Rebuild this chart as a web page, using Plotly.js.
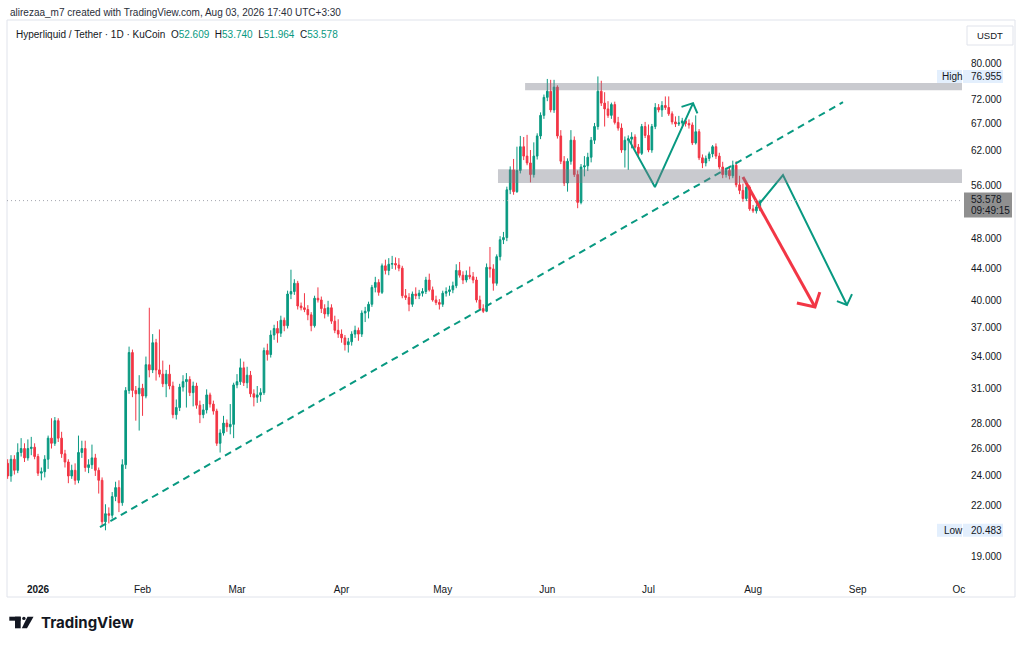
<!DOCTYPE html>
<html>
<head>
<meta charset="utf-8">
<script src="https://cdn.plot.ly/plotly-3.0.1.min.js"></script>
<style>
  html, body { margin: 0; padding: 0; background: #ffffff; }
  #chart { width: 1024px; height: 646px; }
</style>
</head>
<body>
<div id="chart"></div>
<script>
// daily candles, [open, high, low, close]
var dec2025 = [
  [24.9,25.2,23.8,24.0],[24.0,25.5,23.6,25.2],[25.2,25.5,24.1,24.4],[24.4,26.4,24.2,25.7],
  [25.7,26.8,25.4,26.0],[26.0,26.4,25.0,25.3],[25.3,26.7,25.1,26.0],[26.0,26.9,25.5,26.1],
  [26.1,26.4,25.2,25.4]
];
var jan2026 = [
  [25.4,25.6,24.0,24.2],[24.2,24.6,23.7,24.3],[24.3,25.5,23.9,25.2],[25.2,27.0,24.5,26.8],
  [26.8,28.4,26.0,26.4],[26.4,28.5,26.2,28.2],[28.2,28.4,26.5,26.8],[26.8,27.3,25.3,25.6],
  [25.6,25.9,24.6,25.0],[25.0,25.2,23.5,24.0],[24.0,24.8,23.8,24.4],[24.4,24.9,23.4,23.7],
  [23.7,27.0,23.5,25.7],[25.7,26.6,25.3,26.0],[26.0,26.6,24.3,24.6],[24.6,25.2,24.2,24.8],
  [24.8,26.3,24.5,25.3],[25.3,25.6,24.0,24.4],[24.4,24.6,22.8,23.7],[23.7,23.9,20.8,21.0],
  [21.0,22.1,20.483,21.5],[21.5,21.9,20.9,21.4],[21.4,22.9,21.2,22.6],[22.6,23.6,22.3,23.2],
  [23.2,23.7,21.6,22.2],[22.2,25.2,22.0,24.8],[24.8,31.1,24.5,30.8],[30.8,35.0,30.5,34.4],
  [34.4,34.7,30.2,30.8],[30.8,31.2,28.2,30.5],[30.5,32.2,27.4,31.0]
];
var feb2026 = [
  [31.0,31.4,28.6,30.3],[30.3,34.0,30.1,33.2],[33.2,39.2,32.0,32.7],[32.7,36.3,32.4,35.4],
  [35.4,35.8,31.7,32.7],[32.7,36.8,32.0,32.3],[32.3,33.6,31.1,31.4],[31.4,32.7,30.2,32.3],
  [32.3,33.2,30.9,31.2],[31.2,31.6,28.4,28.7],[28.7,30.0,28.3,29.3],[29.3,31.4,29.0,31.1],
  [31.1,32.2,30.7,31.6],[31.6,32.4,29.3,31.8],[31.8,32.1,30.3,30.6],[30.6,31.6,29.4,31.2],
  [31.2,31.5,29.2,29.5],[29.5,29.9,28.0,28.7],[28.7,29.6,28.4,29.1],[29.1,30.9,28.8,30.4],
  [30.4,30.6,29.3,29.6],[29.6,29.9,28.7,29.0],[29.0,29.2,26.2,26.4],[26.4,27.5,25.7,27.2],
  [27.2,28.6,27.0,28.0],[28.0,28.3,27.3,27.7],[27.7,29.6,27.1,27.9],[27.9,31.5,26.8,31.3]
];
var mar2026 = [
  [31.3,32.3,31.0,31.6],[31.6,33.8,31.3,32.9],[32.9,33.5,31.2,31.5],[31.5,33.0,31.0,32.2],
  [32.2,32.6,30.2,30.5],[30.5,30.9,29.4,30.2],[30.2,31.2,29.7,30.4],[30.4,31.0,29.8,30.6],
  [30.6,34.9,30.4,34.6],[34.6,35.3,33.6,34.2],[34.2,36.7,33.9,36.2],[36.2,37.3,35.7,36.9],
  [36.9,37.7,35.4,36.4],[36.4,38.3,36.0,37.8],[37.8,38.1,36.6,37.2],[37.2,41.2,36.9,40.8],
  [40.8,43.8,40.2,41.1],[41.1,42.6,40.7,42.1],[42.1,42.4,39.0,39.4],[39.4,39.8,38.9,39.2],
  [39.2,40.9,38.7,39.0],[39.0,39.5,37.8,38.4],[38.4,38.7,36.6,37.2],[37.2,40.6,37.0,40.3],
  [40.3,41.6,39.8,40.1],[40.1,40.5,38.6,39.1],[39.1,39.6,38.0,38.5],[38.5,40.0,38.2,39.2],
  [39.2,39.6,37.4,37.7],[37.7,38.3,36.4,36.7],[36.7,37.9,35.9,36.3]
];
var apr2026 = [
  [36.3,36.8,35.4,35.9],[35.9,36.2,34.6,35.2],[35.2,35.9,34.4,35.5],[35.5,36.6,35.1,36.3],
  [36.3,37.2,35.9,36.7],[36.7,37.0,35.6,36.3],[36.3,38.9,36.0,38.6],[38.6,39.3,37.6,38.8],
  [38.8,39.9,38.0,39.6],[39.6,41.9,39.3,41.6],[41.6,42.9,41.0,42.2],[42.2,42.6,40.6,41.0],
  [41.0,44.6,40.8,44.3],[44.3,45.1,43.2,43.7],[43.7,45.3,43.1,44.5],[44.5,45.6,43.9,44.6],
  [44.6,45.4,43.8,44.4],[44.4,45.3,43.6,44.0],[44.0,44.3,40.3,40.6],[40.6,41.4,40.1,40.4],
  [40.4,40.9,38.8,39.6],[39.6,41.1,39.3,40.8],[40.8,41.6,40.2,40.6],[40.6,41.3,40.2,40.9],
  [40.9,41.5,40.5,41.1],[41.1,42.9,40.8,42.5],[42.5,43.3,41.1,41.3],[41.3,41.7,39.9,40.1],
  [40.1,40.6,39.5,39.8],[39.8,40.2,39.0,39.6]
];
var may2026 = [
  [39.6,41.2,39.3,40.9],[40.9,41.6,40.5,41.1],[41.1,41.8,40.6,41.3],[41.3,42.3,40.9,41.8],
  [41.8,44.5,41.5,43.7],[43.7,44.8,42.8,43.1],[43.1,43.6,42.0,42.5],[42.5,43.7,42.2,43.1],
  [43.1,44.2,42.6,42.9],[42.9,43.5,42.1,42.5],[42.5,42.9,39.8,40.1],[40.1,40.6,38.9,39.1],
  [39.1,39.6,38.6,38.8],[38.8,44.6,38.7,44.1],[44.1,46.8,42.8,43.9],[43.9,44.5,41.2,42.1],
  [42.1,45.8,41.8,45.5],[45.5,48.3,45.0,47.8],[47.8,48.9,47.2,48.1],[48.1,55.8,47.6,55.3],
  [55.3,59.2,54.6,58.6],[58.6,60.5,54.5,55.0],[55.0,62.7,54.8,58.5],[58.5,64.7,58.0,62.7],
  [62.7,64.5,60.3,61.0],[61.0,64.9,59.4,59.8],[59.8,62.1,56.5,57.8],[57.8,63.5,57.3,61.0],
  [61.0,65.2,60.4,64.7],[64.7,69.3,64.1,68.7],[68.7,73.0,68.0,72.4]
];
var jun2026 = [
  [72.4,76.4,71.6,73.7],[73.7,76.2,69.3,69.8],[69.8,76.2,69.2,74.6],[74.6,75.0,64.2,64.7],
  [64.7,65.8,59.6,60.1],[60.1,61.0,55.9,56.4],[56.4,60.6,55.0,60.1],[60.1,65.8,59.5,63.9],
  [63.9,64.6,57.4,57.8],[57.8,58.5,52.4,53.3],[53.3,59.6,53.0,59.1],[59.1,61.0,57.5,59.3],
  [59.3,61.6,58.4,60.8],[60.8,64.5,59.9,63.9],[63.9,67.2,63.2,66.5],[66.5,76.955,65.9,73.7],
  [73.7,76.0,70.6,71.2],[71.2,73.5,66.5,70.0],[70.0,71.6,68.2,68.7],[68.7,71.3,68.0,70.9],
  [70.9,71.5,66.9,67.3],[67.3,68.4,65.7,66.2],[66.2,67.1,61.6,62.1],[62.1,64.6,59.0,63.9],
  [63.9,64.8,58.6,64.1],[64.1,65.4,62.4,64.5],[64.5,65.0,62.2,62.6],[62.6,63.2,61.0,61.5],
  [61.5,67.0,61.2,66.5],[66.5,67.4,64.3,64.8]
];
var jul2026 = [
  [64.8,66.9,61.7,62.1],[62.1,67.0,61.6,66.5],[66.5,71.2,66.0,70.3],[70.3,71.0,69.3,69.8],
  [69.8,71.6,68.4,70.7],[70.7,72.6,69.8,70.3],[70.3,72.6,68.6,69.0],[69.0,69.5,66.9,67.4],
  [67.4,68.5,66.4,67.0],[67.0,68.6,66.6,67.2],[67.2,68.2,66.7,67.6],[67.6,68.0,66.5,67.1],
  [67.1,67.9,66.1,66.8],[66.8,67.3,63.0,63.4],[63.4,68.7,63.1,65.5],[65.5,66.0,60.3,60.7],
  [60.7,61.3,58.9,59.8],[59.8,61.1,59.2,60.6],[60.6,61.8,60.1,61.4],[61.4,63.0,60.8,62.7],
  [62.7,63.3,60.5,61.0],[61.0,61.6,58.7,59.1],[59.1,60.0,57.2,57.8],[57.8,59.0,57.3,58.5],
  [58.5,59.1,57.0,57.6],[57.6,60.2,57.2,59.4],[59.4,60.1,55.7,56.1],[56.1,57.6,54.6,55.2],
  [55.2,56.3,53.4,53.9],[53.9,56.2,53.5,55.7],[55.7,56.0,52.0,52.3]
];
var aug2026 = [
  [52.3,52.9,51.7,52.0],[52.0,53.0,51.6,52.6],[52.609,53.740,51.964,53.578]
];

var months = [
  ['2025-12-23', dec2025], ['2026-01-01', jan2026], ['2026-02-01', feb2026],
  ['2026-03-01', mar2026], ['2026-04-01', apr2026], ['2026-05-01', may2026],
  ['2026-06-01', jun2026], ['2026-07-01', jul2026], ['2026-08-01', aug2026]
];

// axis ticks
var monthTicks = ['2026-01-01','2026-02-01','2026-03-01','2026-04-01','2026-05-01',
                  '2026-06-01','2026-07-01','2026-08-01','2026-09-01','2026-10-01'];
var monthLabels = ['<b>2026</b>','Feb','Mar','Apr','May','Jun','Jul','Aug','Sep','Oc'];
var priceTicks = [19, 22, 24, 26, 28, 31, 34, 37, 40, 44, 48, 56, 62, 67, 72, 80];

// drawings on the chart
var trendX = ['2026-01-19 09:00', '2026-08-27 16:00'];
var trendY = [20.68, 71.40];
var zigX = ['2026-06-24 21:40', '2026-07-02 21:40', '2026-07-14 05:00'];
var zigY = [64.29, 55.73, 71.19];
var zigHeadX = ['2026-07-10 19:00', '2026-07-14 05:00', '2026-07-15 12:00'];
var zigHeadY = [70.43, 71.19, 69.09];
var redX = ['2026-07-29 00:00', '2026-08-19 08:40'];
var redY = [57.38, 39.28];
var redHeadX = ['2026-08-14 00:00', '2026-08-19 08:40', '2026-08-20 19:00'];
var redHeadY = [39.74, 39.28, 41.03];
var pathX = ['2026-08-03 01:00', '2026-08-09 21:00', '2026-08-28 20:00'];
var pathY = [53.19, 57.71, 39.51];
var pathHeadX = ['2026-08-25 21:00', '2026-08-28 20:00', '2026-08-30 08:00'];
var pathHeadY = [39.97, 39.51, 40.79];
var topZone = ['2026-05-25 10:00', 73.9, 75.5];
var midZone = ['2026-05-17 09:00', 56.4, 58.7];

var highValue = 76.955;
var lowValue = 20.483;
var lastClose = 53.578;
var countdown = '09:49:15';

var GREEN = '#089981';
var RED = '#f23645';
var TEXT = '#131722';
var FONT = 'Liberation Sans, Arial, sans-serif';

var dates = [], opens = [], highs = [], lows = [], closes = [];
months.forEach(function (m) {
  var start = new Date(m[0] + 'T00:00:00Z');
  m[1].forEach(function (c, i) {
    var d = new Date(start.getTime() + i * 86400000);
    dates.push(d.toISOString().slice(0, 10));
    opens.push(c[0]); highs.push(c[1]); lows.push(c[2]); closes.push(c[3]);
  });
});

// plot area in pixels, price range of the log axis
var L = 7, R = 962, T = 22, B = 575;
var r0 = Math.log10(17.98), r1 = Math.log10(90.2);
function px(x) { return (x - L) / (R - L); }
function py(y) { return (B - y) / (B - T); }
function vy(v) { return (Math.log10(v) - r0) / (r1 - r0); }
var onePx = 1 / (B - T);

function line(x, y, color, width, dash) {
  return {
    type: 'scatter', mode: 'lines', x: x, y: y, hoverinfo: 'skip',
    line: { color: color, width: width, dash: dash || 'solid' }
  };
}

var data = [
  {
    type: 'candlestick', x: dates, open: opens, high: highs, low: lows, close: closes,
    increasing: { line: { color: GREEN, width: 1 }, fillcolor: GREEN },
    decreasing: { line: { color: RED, width: 1 }, fillcolor: RED },
    whiskerwidth: 0, hoverinfo: 'skip'
  },
  line(trendX, trendY, GREEN, 2, '7px,5px'),
  line(zigX, zigY, GREEN, 2),
  line(zigHeadX, zigHeadY, GREEN, 2),
  line(redX, redY, RED, 3),
  line(redHeadX, redHeadY, RED, 3),
  line(pathX, pathY, GREEN, 2),
  line(pathHeadX, pathHeadY, GREEN, 2)
];

function zone(z) {
  return {
    type: 'rect', xref: 'x', yref: 'y', x0: z[0], x1: '2026-10-10', y0: z[1], y1: z[2],
    fillcolor: 'rgba(120,123,134,0.4)', line: { width: 0 }, layer: 'above'
  };
}

// box on the price scale, given in pixels around a price
function priceBox(x0, x1, value, up, down, fill) {
  return {
    type: 'rect', xref: 'paper', yref: 'paper',
    x0: px(x0), x1: px(x1), y0: vy(value) - down * onePx, y1: vy(value) + up * onePx,
    fillcolor: fill, line: { width: 0 }, layer: 'above'
  };
}

function note(x, y, text, size, color, anchor, family) {
  return {
    xref: 'paper', yref: 'paper', x: px(x), y: py(y), text: text, showarrow: false,
    xanchor: anchor || 'left', yanchor: 'middle',
    font: { family: family || FONT, size: size, color: color }
  };
}

function priceNote(x, value, text, shift) {
  return {
    xref: 'paper', yref: 'paper', x: px(x), y: vy(value) + (shift || 0) * onePx,
    text: text, showarrow: false, xanchor: 'left', yanchor: 'middle',
    font: { family: FONT, size: 10, color: TEXT }
  };
}

function value(v) { return '<span style="color:' + GREEN + '">' + v.toFixed(3) + '</span>'; }
var last = opens.length - 1;
var legendText = 'Hyperliquid / Tether · 1D · KuCoin\u00a0\u00a0' +
  'O' + value(opens[last]) + '\u00a0\u00a0H' + value(highs[last]) +
  '\u00a0\u00a0L' + value(lows[last]) + '\u00a0\u00a0C' + value(closes[last]);

var layout = {
  width: 1024, height: 646,
  margin: { l: L, r: 1024 - R, t: T, b: 646 - B },
  paper_bgcolor: '#ffffff', plot_bgcolor: '#ffffff',
  showlegend: false,
  font: { family: FONT, color: TEXT },
  xaxis: {
    type: 'date', range: ['2025-12-22 19:26', '2026-10-01 22:48'],
    tickvals: monthTicks, ticktext: monthLabels,
    showgrid: false, zeroline: false, showline: false, ticks: '',
    tickfont: { family: FONT, size: 10, color: TEXT },
    ticklabelstandoff: 7,
    rangeslider: { visible: false }, fixedrange: true
  },
  yaxis: {
    type: 'log', side: 'right',
    range: [r0, r1],
    tickvals: priceTicks, ticktext: priceTicks.map(function (v) { return v.toFixed(3); }),
    showgrid: false, zeroline: false, showline: false, ticks: '',
    tickfont: { family: FONT, size: 10, color: TEXT },
    ticklabelstandoff: 8, fixedrange: true
  },
  shapes: [
    // pane frame
    { type: 'rect', xref: 'paper', yref: 'paper', x0: px(7), x1: px(1015), y0: py(20), y1: py(597),
      line: { color: '#e0e3eb', width: 1 }, fillcolor: 'rgba(0,0,0,0)', layer: 'below' },
    zone(topZone),
    zone(midZone),
    // last price line
    { type: 'line', xref: 'paper', yref: 'y', x0: 0, x1: 1, y0: lastClose, y1: lastClose,
      line: { color: '#a3a6af', width: 1, dash: '1px,3px' }, layer: 'above' },
    priceBox(964, 1012, lastClose, 8, 17, '#8f8f8f'),
    priceBox(937, 962, highValue, 6.5, 6.5, '#e3effd'),
    priceBox(963, 1003, highValue, 6.5, 6.5, '#e3effd'),
    priceBox(937, 962, lowValue, 6.5, 6.5, '#e3effd'),
    priceBox(963, 1003, lowValue, 6.5, 6.5, '#e3effd'),
    // currency box
    { type: 'rect', xref: 'paper', yref: 'paper', x0: px(967), x1: px(1013), y0: py(26), y1: py(45),
      line: { color: '#e0e3eb', width: 1 }, fillcolor: '#ffffff' },
    // TradingView logo mark
    { type: 'rect', xref: 'paper', yref: 'paper', x0: px(9.3), x1: px(20.7), y0: py(616.7), y1: py(620.7),
      fillcolor: TEXT, line: { width: 0 } },
    { type: 'rect', xref: 'paper', yref: 'paper', x0: px(15), x1: px(20.7), y0: py(616.7), y1: py(628.3),
      fillcolor: TEXT, line: { width: 0 } },
    { type: 'circle', xref: 'paper', yref: 'paper', x0: px(22.2), x1: px(25.6), y0: py(616.7), y1: py(620.1),
      fillcolor: TEXT, line: { width: 0 } },
    { type: 'path', xref: 'paper', yref: 'paper',
      path: 'M ' + px(27.5) + ',' + py(616.7) + ' L ' + px(33.5) + ',' + py(616.7) +
            ' L ' + px(27) + ',' + py(628.3) + ' L ' + px(21.8) + ',' + py(628.3) + ' Z',
      fillcolor: TEXT, line: { width: 0 } }
  ],
  annotations: [
    note(8, 12, 'alirezaa_m7 created with TradingView.com, Aug 03, 2026 17:40 UTC+3:30', 10, '#2a2e39'),
    note(14, 35, legendText, 10, TEXT),
    note(990, 35.5, 'USDT', 9.5, TEXT, 'center'),
    priceNote(940, highValue, 'High'),
    priceNote(969, highValue, highValue.toFixed(3)),
    priceNote(942, lowValue, 'Low'),
    priceNote(969, lowValue, lowValue.toFixed(3)),
    priceNote(969, lastClose, lastClose.toFixed(3), 1),
    priceNote(969, lastClose, countdown, -10),
    note(39, 622, '<b>TradingView</b>', 15, TEXT, 'left', 'Inter, sans-serif')
  ]
};

Plotly.newPlot('chart', data, layout, { staticPlot: true });
</script>
</body>
</html>
